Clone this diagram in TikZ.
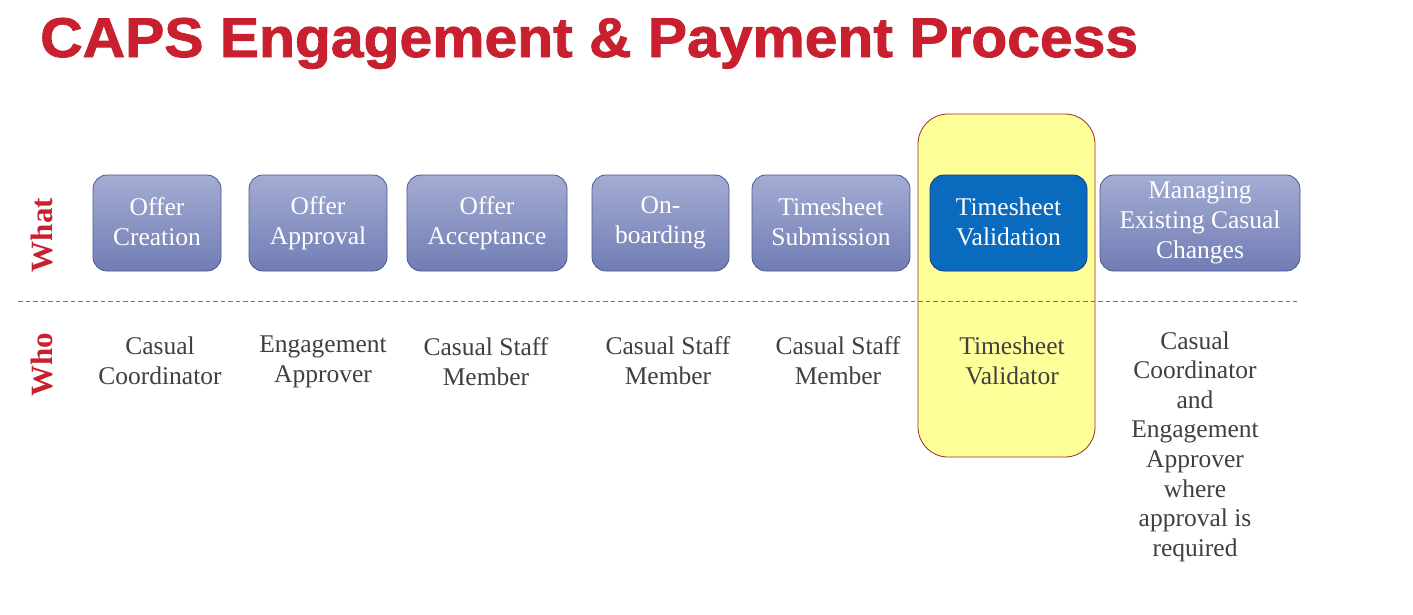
\documentclass[tikz,border=0pt]{standalone}
\usepackage{fontspec}
\setmainfont{Liberation Serif}
\newfontfamily\titlefont{Liberation Sans}[FakeBold=1.5]
\usepackage{tikz}
\usetikzlibrary{positioning, calc}
\newcommand{\boxstrut}{\rule[-3pt]{0pt}{30pt}}
\definecolor{capsred}{HTML}{C8202F}
\definecolor{splitred}{HTML}{D84848}
\definecolor{boxtop}{HTML}{A4ACD3}
\definecolor{boxbot}{HTML}{717DB4}
\definecolor{boxline}{HTML}{4B5791}
\definecolor{selblue}{HTML}{0A6BBE}
\definecolor{selline}{HTML}{1E3E80}
\definecolor{hiyellow}{HTML}{FFFF99}
\definecolor{hiline}{HTML}{9E2A2A}
\definecolor{whogrey}{HTML}{404040}
\tikzstyle{stepbox}=[rounded corners=14pt,draw=boxline,thick,top color=boxtop,bottom color=boxbot,
  text=white,align=center,font=\fontsize{25.5}{30}\selectfont,minimum height=96pt,inner sep=0pt,
  execute at begin node=\boxstrut,execute at end node=\boxstrut]
\tikzstyle{selbox}=[stepbox,fill=selblue,draw=selline,top color=selblue,bottom color=selblue]
\tikzstyle{whotext}=[text=whogrey,align=center,font=\fontsize{25.5}{29.6}\selectfont,inner sep=0pt,
  execute at begin node=\boxstrut,execute at end node=\boxstrut]
\tikzstyle{rowlabel}=[text=capsred,rotate=90,font=\fontsize{31}{36}\selectfont\bfseries,inner sep=0pt]

\begin{document}
\begin{tikzpicture}[x=1pt,y=-1pt]
        \useasboundingbox (0,0) rectangle (1413,614);
        \node[anchor=base west,inner sep=0pt,text=capsred,font=\fontsize{56}{60}\titlefont\bfseries]
            (title) at (40,57) {\scalebox{1.05}[1]{CAPS Engagement \& Payment Process}};

        % highlight behind the validation column
        \node[draw=hiline,thick,fill=hiyellow,rounded corners=30pt,minimum width=177pt,minimum height=343pt]
            (hilite) at (1006.5,285.5) {};

        \coordinate (splitL) at (18,301);
        \coordinate (splitR) at (1297,301);
        \draw[splitred,line width=1pt,dash pattern=on 4.5pt off 3pt] (splitL) -- (splitR);

        \node[rowlabel] (what) at (42,235) {What};
        \node[rowlabel] (who) at (42,365) {Who};

        \node[stepbox,minimum width=128pt] (s1) at (157,223) {Offer\\Creation};
        \node[stepbox,minimum width=138pt] (s2) at (318,223) {Offer\\Approval};
        \node[stepbox,minimum width=160pt] (s3) at (487,223) {Offer\\Acceptance};
        \node[stepbox,minimum width=137pt] (s4) at (660.5,223) {On-\\boarding};
        \node[stepbox,minimum width=158pt] (s5) at (831,223) {Timesheet\\Submission};
        \node[selbox,minimum width=157pt] (s6) at (1008.5,223) {Timesheet\\Validation};
        \node[stepbox,minimum width=200pt] (s7) at (1200,223) {Managing\\Existing Casual\\Changes};

        \node[whotext] (w1) at (160,362) {Casual\\Coordinator};
        \node[whotext] (w2) at (323,362) {Engagement\\Approver};
        \node[whotext] (w3) at (486,363) {Casual Staff\\Member};
        \node[whotext] (w4) at (668,362) {Casual Staff\\Member};
        \node[whotext] (w5) at (838,362) {Casual Staff\\Member};
        \node[whotext] (w6) at (1012,362) {Timesheet\\Validator};
        \node[whotext] (w7) at (1195,446.5) {Casual\\Coordinator\\and\\Engagement\\Approver\\where\\approval is\\required};
\end{tikzpicture}
\end{document}
